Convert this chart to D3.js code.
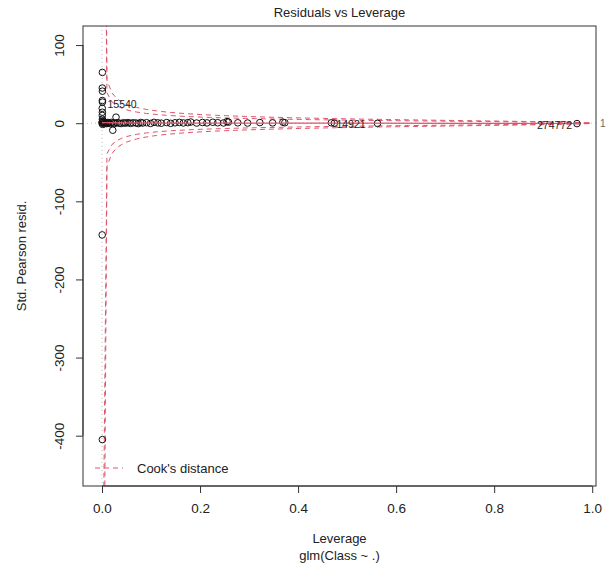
<!DOCTYPE html>
<html>
<head>
<meta charset="utf-8">
<script src="https://cdn.jsdelivr.net/npm/d3@7"></script>
<style>
  body { margin: 0; background: #fff; }
  svg { display: block; font-family: "Liberation Sans", Arial, sans-serif; }
</style>
</head>
<body>
<svg id="chart" width="608" height="579"></svg>
<script>
// leverage (hat values) and standardized Pearson residuals
const leverage = [
  0.0008, 0.0006, 0.0009, 0.0007, 0.0010, 0.0005, 0.0008, 0.0006, 0.0009, 0.0007,
  0.0004, 0.0008, 0.0286, 0.0220, 0.00003, 0.0010, 0.0012, 0.0015,
  0.0030, 0.0045, 0.0060, 0.0080, 0.0100, 0.0120, 0.0140, 0.0170, 0.0190, 0.0230,
  0.0260, 0.0310, 0.0350, 0.0390, 0.0440, 0.0480, 0.0530, 0.0580, 0.0630, 0.0690,
  0.0740, 0.0790, 0.083, 0.091, 0.099, 0.106, 0.114, 0.121, 0.132, 0.140, 0.149,
  0.158, 0.166, 0.175, 0.181, 0.193, 0.205, 0.214, 0.226, 0.236, 0.248, 0.255,
  0.258, 0.277, 0.297, 0.322, 0.348, 0.369, 0.373, 0.468, 0.474, 0.562, 0.969
];
const stdResid = [
  65, 45, 41, 29, 27, 19, 14, 10, 5, 2,
  -143, -405, 7.7, -9, 0.3, 0.8, -1.5, 3,
  0.5, -0.8, 1.2, 0.3, -0.5, 0.9, 0.2, -0.6, 1.0, 0.4,
  -0.3, 0.7, 0.1, -0.4, 0.6, 0.0, 0.8, -0.2, 0.5, 0.3,
  -0.5, 0.9, 0.2, 0.6, -0.3, 1.1, 0.4, 0.0, 0.8, -0.2, 0.5,
  1.0, 0.3, 0.7, 1.5, 0.2, 0.9, 0.4, 1.2, 0.6, 0.3, 2.0,
  1.4, 0.5, 0.2, 0.8, 0.4, 1.3, 0.6, 0.5, 0.0, -0.2, -0.5
];
const pointLabels = [
  { i: 4, text: "15540", pos: "right" },
  { i: 67, text: "14921", pos: "right" },
  { i: 70, text: "274772", pos: "left" }
];
// lowess smooth of residuals on leverage
const smoothLev = [0.00003, 0.05, 0.15, 0.3, 0.5, 0.75, 0.969];
const smoothRes = [0.6, 0.4, 0.2, 0.1, 0.0, -0.2, -0.4];

const cookLevels = [0.5, 1];
const nParams = 31;
const xTicks = [0, 0.2, 0.4, 0.6, 0.8, 1.0];
const yTicks = [-400, -300, -200, -100, 0, 100];

const box = { left: 83, right: 596, top: 26, bottom: 486 };
const red = "#DF536B";

const svg = d3.select("#chart");

// R style limits: x from 0 to max, y extended by 8%, then 4% each side
const hMax = d3.max(leverage);
const xLim = [0, hMax];
let yLim = d3.extent(stdResid);
const yr = yLim[1] - yLim[0];
yLim = [yLim[0] - 0.08 * yr, yLim[1] + 0.08 * yr];
const pad = (l) => [l[0] - 0.04 * (l[1] - l[0]), l[1] + 0.04 * (l[1] - l[0])];
const usrX = pad(xLim), usrY = pad(yLim);

const x = d3.scaleLinear().domain(usrX).range([box.left, box.right]);
const y = d3.scaleLinear().domain(usrY).range([box.bottom, box.top]);

svg.append("clipPath").attr("id", "clip")
  .append("rect")
  .attr("x", box.left).attr("y", box.top)
  .attr("width", box.right - box.left).attr("height", box.bottom - box.top);

const plot = svg.append("g").attr("clip-path", "url(#clip)");

// reference lines at 0
plot.append("line")
  .attr("x1", x(0)).attr("x2", x(0)).attr("y1", box.top).attr("y2", box.bottom)
  .attr("stroke", "#bebebe").attr("stroke-dasharray", "1,3");
plot.append("line")
  .attr("x1", box.left).attr("x2", box.right).attr("y1", y(0)).attr("y2", y(0))
  .attr("stroke", "#bebebe").attr("stroke-dasharray", "1,3");

// Cook's distance contours
const hMin = d3.min(leverage);
const hh = d3.range(101).map(k => hMin + k * (usrX[1] - hMin) / 100).filter(h => h < 1);
const contour = d3.line().x(d => x(d[0])).y(d => y(d[1]));
cookLevels.forEach(level => {
  [1, -1].forEach(sign => {
    const pts = hh.map(h => [h, sign * Math.sqrt(level * nParams * (1 - h) / h)]);
    plot.append("path")
      .attr("d", contour(pts))
      .attr("fill", "none")
      .attr("stroke", red)
      .attr("stroke-width", 1)
      .attr("stroke-dasharray", "5,4");
  });
});

// points
plot.selectAll("circle.pt")
  .data(leverage.map((h, i) => [h, stdResid[i]]))
  .join("circle")
  .attr("class", "pt")
  .attr("cx", d => x(d[0]))
  .attr("cy", d => y(d[1]))
  .attr("r", 3.3)
  .attr("fill", "none")
  .attr("stroke", "#111")
  .attr("stroke-width", 1);

// smooth line
plot.append("path")
  .attr("d", d3.line().x((d, i) => x(smoothLev[i])).y(d => y(d))(smoothRes))
  .attr("fill", "none")
  .attr("stroke", red)
  .attr("stroke-width", 1.2);

// point labels
svg.selectAll("text.lab")
  .data(pointLabels)
  .join("text")
  .attr("class", "lab")
  .attr("x", d => x(leverage[d.i]) + (d.pos === "right" ? 5 : -5))
  .attr("y", d => y(stdResid[d.i]) + 2)
  .attr("dy", "0.35em")
  .attr("text-anchor", d => d.pos === "right" ? "start" : "end")
  .attr("font-size", 10.5)
  .attr("fill", "#222")
  .text(d => d.text);

// box
svg.append("rect")
  .attr("x", box.left).attr("y", box.top)
  .attr("width", box.right - box.left).attr("height", box.bottom - box.top)
  .attr("fill", "none").attr("stroke", "#333");

// axes
const xAxis = svg.append("g")
  .attr("transform", `translate(0,${box.bottom})`)
  .call(d3.axisBottom(x).tickValues(xTicks).tickFormat(d3.format(".1f")).tickSize(7).tickPadding(10));
const yAxis = svg.append("g")
  .attr("transform", `translate(${box.left},0)`)
  .call(d3.axisLeft(y).tickValues(yTicks).tickFormat(d => String(d)).tickSize(7));
[xAxis, yAxis].forEach(a => {
  a.select(".domain").remove();
  a.selectAll("line").attr("stroke", "#333");
  a.selectAll("text").attr("font-size", 13.5).attr("fill", "#222")
    .attr("font-family", "Liberation Sans, Arial, sans-serif");
});
yAxis.selectAll(".tick text")
  .attr("transform", "rotate(-90)")
  .attr("text-anchor", "middle")
  .attr("x", 0).attr("y", -19).attr("dy", "0em");
// axis lines only span the tick range, as in base R
xAxis.append("line")
  .attr("x1", x(xTicks[0])).attr("x2", x(xTicks[xTicks.length - 1]))
  .attr("stroke", "#333");
yAxis.append("line")
  .attr("y1", y(yTicks[0])).attr("y2", y(yTicks[yTicks.length - 1]))
  .attr("stroke", "#333");

// right side contour level label
svg.append("text")
  .attr("x", box.right + 4).attr("y", y(0)).attr("dy", "0.35em")
  .attr("font-size", 10).attr("fill", "#666").text("1");

// titles
const cx = (box.left + box.right) / 2;
svg.append("text").attr("x", cx).attr("y", 17).attr("text-anchor", "middle")
  .attr("font-size", 13).attr("fill", "#222").text("Residuals vs Leverage");
svg.append("text").attr("x", cx).attr("y", 543).attr("text-anchor", "middle")
  .attr("font-size", 13).attr("fill", "#222").text("Leverage");
svg.append("text").attr("x", cx).attr("y", 560).attr("text-anchor", "middle")
  .attr("font-size", 13).attr("fill", "#222").text("glm(Class ~ .)");
svg.append("text")
  .attr("transform", `translate(26,${(box.top + box.bottom) / 2}) rotate(-90)`)
  .attr("text-anchor", "middle")
  .attr("font-size", 13).attr("fill", "#222").text("Std. Pearson resid.");

// legend
svg.append("line")
  .attr("x1", 95).attr("x2", 123).attr("y1", 468).attr("y2", 468)
  .attr("stroke", red).attr("stroke-dasharray", "5,4");
svg.append("text").attr("x", 137).attr("y", 468).attr("dy", "0.35em")
  .attr("font-size", 13).attr("fill", "#222").text("Cook's distance");
</script>
</body>
</html>
